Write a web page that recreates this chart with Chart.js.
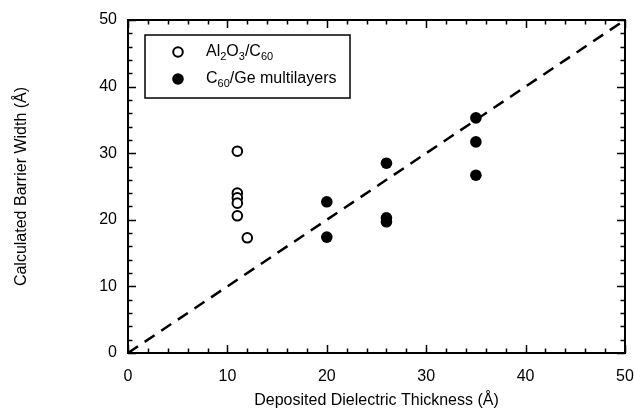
<!DOCTYPE html>
<html>
<head>
<meta charset="utf-8">
<script src="https://cdn.jsdelivr.net/npm/chart.js@4"></script>
<style>
  html, body { margin: 0; padding: 0; background: #fff; }
  #wrap { width: 634px; height: 412px; }
</style>
</head>
<body>
<div id="wrap"><canvas id="barrierChart" width="634" height="412"></canvas></div>
<script>
// Al2O3/C60 samples
var al2o3X = [11, 11, 11, 11, 11, 12];
var al2o3Y = [30.3, 24.0, 23.3, 22.5, 20.6, 17.3];
// C60/Ge multilayer samples
var geX = [20, 20, 26, 26, 26, 35, 35, 35];
var geY = [22.7, 17.4, 28.5, 20.3, 19.7, 35.3, 31.7, 26.7];
// y = x reference line
var guideX = [0, 50];
var guideY = [0, 50];
var axisMin = 0, axisMax = 50, majorStep = 10, minorStep = 2;

var FONT = '"Liberation Sans", Arial, Helvetica, sans-serif';

function toPoints(xs, ys) {
	return xs.map(function(x, i) { return {x: x, y: ys[i]}; });
}

// frame with inward ticks on all four sides
var frameTicks = {
	id: 'frameTicks',
	afterDraw: function(chart) {
		var ctx = chart.ctx, a = chart.chartArea;
		var xs = chart.scales.x, ys = chart.scales.y;
		ctx.save();
		ctx.strokeStyle = '#000';
		ctx.lineWidth = 1.5;
		for (var v = axisMin; v <= axisMax; v += minorStep) {
			var len = (v % majorStep === 0) ? 8 : 4.5;
			var px = Math.round(xs.getPixelForValue(v)) + 0.5;
			var py = Math.round(ys.getPixelForValue(v)) + 0.5;
			ctx.beginPath();
			ctx.moveTo(px, a.bottom); ctx.lineTo(px, a.bottom - len);
			ctx.moveTo(px, a.top); ctx.lineTo(px, a.top + len);
			ctx.moveTo(a.left, py); ctx.lineTo(a.left + len, py);
			ctx.moveTo(a.right, py); ctx.lineTo(a.right - len, py);
			ctx.stroke();
		}
		ctx.lineWidth = 2;
		ctx.strokeRect(a.left, a.top, a.right - a.left, a.bottom - a.top);
		ctx.restore();
	}
};

// boxed legend with subscripted chemical formulas
var formulaLegend = {
	id: 'formulaLegend',
	afterDraw: function(chart) {
		var ctx = chart.ctx;
		var box = {x: 145, y: 35, w: 205, h: 63};
		var rows = [
			{y: 52, filled: false, parts: [['Al', 0], ['2', 1], ['O', 0], ['3', 1], ['/C', 0], ['60', 1]]},
			{y: 79, filled: true, parts: [['C', 0], ['60', 1], ['/Ge multilayers', 0]]}
		];
		ctx.save();
		ctx.fillStyle = '#fff';
		ctx.fillRect(box.x, box.y, box.w, box.h);
		ctx.strokeStyle = '#000';
		ctx.lineWidth = 1.5;
		ctx.strokeRect(box.x, box.y, box.w, box.h);
		rows.forEach(function(r) {
			ctx.beginPath();
			ctx.arc(178, r.y, r.filled ? 5.8 : 4.8, 0, Math.PI * 2);
			if (r.filled) { ctx.fillStyle = '#000'; ctx.fill(); }
			else { ctx.lineWidth = 2; ctx.stroke(); }
			var x = 206;
			ctx.textBaseline = 'middle';
			ctx.textAlign = 'left';
			ctx.fillStyle = '#000';
			r.parts.forEach(function(p) {
				ctx.font = (p[1] ? '11px ' : '16px ') + FONT;
				ctx.fillText(p[0], x, p[1] ? r.y + 5 : r.y);
				x += ctx.measureText(p[0]).width;
			});
		});
		ctx.restore();
	}
};

var ctx = document.getElementById('barrierChart');
var barrierChart = new Chart(ctx, {
	type: 'scatter',
	data: {
		datasets: [
			{
				label: 'y = x',
				type: 'line',
				data: toPoints(guideX, guideY),
				borderColor: '#000',
				borderWidth: 2.5,
				borderDash: [12, 8],
				pointRadius: 0,
				fill: false
			},
			{
				label: 'Al2O3/C60',
				data: toPoints(al2o3X, al2o3Y),
				pointRadius: 4.8,
				pointBorderWidth: 2,
				pointBorderColor: '#000',
				pointBackgroundColor: '#fff'
			},
			{
				label: 'C60/Ge multilayers',
				data: toPoints(geX, geY),
				pointRadius: 5.8,
				pointBorderWidth: 0,
				pointBackgroundColor: '#000'
			}
		]
	},
	options: {
		responsive: false,
		animation: false,
		layout: { padding: { top: 20, right: 9, left: 0, bottom: 0 } },
		plugins: {
			legend: { display: false },
			tooltip: { enabled: false }
		},
		scales: {
			x: {
				type: 'linear',
				min: axisMin,
				max: axisMax,
				grid: { display: false, drawTicks: false },
				border: { display: false },
				ticks: { stepSize: majorStep, color: '#000', padding: 14, font: { family: FONT, size: 16 } },
				title: { display: true, text: 'Deposited Dielectric Thickness (Å)', color: '#000', padding: { top: 2, bottom: 2 }, font: { family: FONT, size: 16 } },
				afterFit: function(scale) {
					scale.height = 59;
					scale.paddingLeft = 0;
					scale.paddingRight = 0;
				}
			},
			y: {
				type: 'linear',
				min: axisMin,
				max: axisMax,
				grid: { display: false, drawTicks: false },
				border: { display: false },
				ticks: { stepSize: majorStep, color: '#000', padding: 11, font: { family: FONT, size: 16 } },
				title: { display: true, text: 'Calculated Barrier Width (Å)', color: '#000', padding: { top: 12, bottom: 0 }, font: { family: FONT, size: 16 } },
				afterFit: function(scale) {
					scale.width = 128;
					scale.paddingTop = 0;
					scale.paddingBottom = 0;
				}
			}
		}
	},
	plugins: [frameTicks, formulaLegend]
});
</script>
</body>
</html>
